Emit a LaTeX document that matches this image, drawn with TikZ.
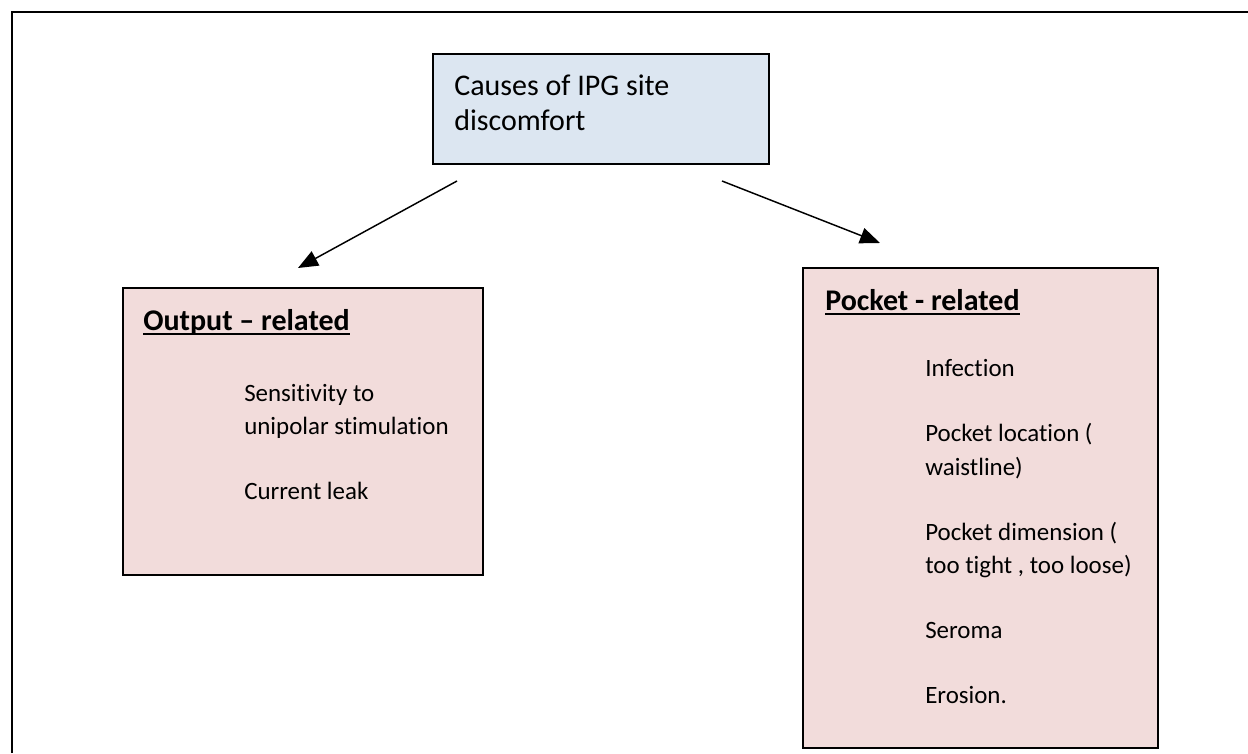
\documentclass[tikz,border=0pt]{standalone}
\usepackage{fontspec}
\setmainfont{Carlito}[Ligatures={NoCommon}]
\usetikzlibrary{arrows.meta,calc}

\definecolor{causefill}{RGB}{220,230,241}
\definecolor{relfill}{RGB}{242,220,219}

\tikzset{
  box/.style={draw=black, line width=1.1pt, inner sep=0pt},
  causetext/.style={anchor=base west, inner sep=0pt, font=\fontsize{22.5}{27}\selectfont},
  headtext/.style={anchor=base west, inner sep=0pt, font=\fontsize{22.5}{27}\selectfont\bfseries},
  itemtext/.style={anchor=base west, inner sep=0pt, font=\fontsize{18.7}{22}\selectfont},
  uline/.style={line width=1.3pt},
  arrow/.style={line width=1.1pt, -{Triangle[length=15pt,width=12pt]}}
}

\begin{document}
\begin{tikzpicture}[x=0.75pt,y=0.75pt,yscale=-1,xscale=1]
\path[use as bounding box] (0,0) rectangle (1248,753);

%Frame (top and left edges only)
\draw [line width=1.5pt] (12,753) -- (12,12) -- (1248,12) ;

%Top box
\node [box, fill=causefill, minimum width=252pt, minimum height=82.5pt] (causes) at (601,109) {};
\node [causetext] (causesA) at (454,95) {Causes of IPG site};
\node [causetext] (causesB) at (454,130) {discomfort};

%Output box
\node [box, fill=relfill, minimum width=270pt, minimum height=215.25pt] (output) at (303,431.5) {};
\node [headtext] (outHead) at (143,330) {Output – related};
\draw [uline] ($(outHead.base west)+(0,4)$) -- ($(outHead.base east)+(0,4)$) ;
\node [itemtext] (outA) at (244,401) {Sensitivity to};
\node [itemtext] (outB) at (244,434) {unipolar stimulation};
\node [itemtext] (outC) at (244,499) {Current leak};

%Pocket box
\node [box, fill=relfill, minimum width=266.25pt, minimum height=360pt] (pocket) at (980.5,508) {};
\node [headtext] (pocHead) at (825,310) {Pocket - related};
\draw [uline] ($(pocHead.base west)+(0,4)$) -- ($(pocHead.base east)+(0,4)$) ;
\node [itemtext] (pocA) at (925,376) {Infection};
\node [itemtext] (pocB) at (925,441) {Pocket location (};
\node [itemtext] (pocC) at (925,475) {waistline)};
\node [itemtext] (pocD) at (925,540) {Pocket dimension (};
\node [itemtext] (pocE) at (925,573) {too tight , too loose)};
\node [itemtext] (pocF) at (925,638) {Seroma};
\node [itemtext] (pocG) at (925,703) {Erosion.};

%Arrows
\coordinate (outStart) at (457,181);
\coordinate (outEnd) at (298,268);
\coordinate (pocStart) at (722,181);
\coordinate (pocEnd) at (880,243);
\draw [arrow] (outStart) -- (outEnd) ;
\draw [arrow] (pocStart) -- (pocEnd) ;

\end{tikzpicture}
\end{document}
